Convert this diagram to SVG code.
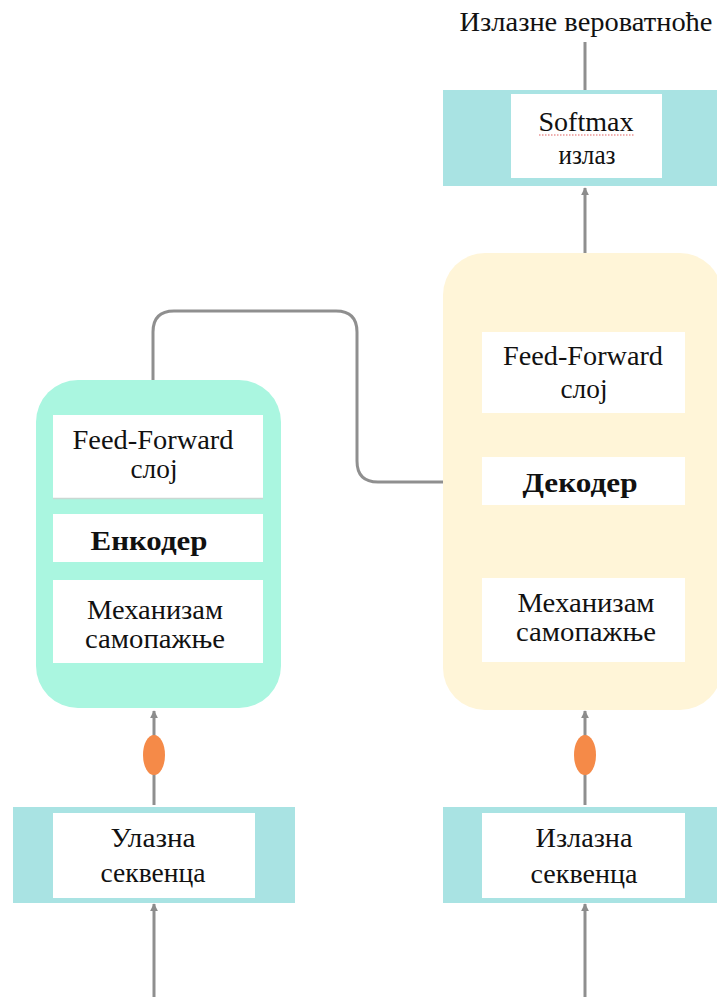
<svg xmlns="http://www.w3.org/2000/svg" width="717" height="997" viewBox="0 0 717 997">
  <defs>
    <marker id="arrow" viewBox="0 0 10 10" refX="9" refY="5" markerWidth="8" markerHeight="9" markerUnits="userSpaceOnUse" orient="auto">
      <path d="M0,0 L10,5 L0,10 Z" fill="#8c8c8c"/>
    </marker>
    <style>
      .lbl { font-family: "Liberation Serif", "Times New Roman", serif; font-size: 27px; fill: #111; text-anchor: middle; }
      .bold { font-weight: bold; }
      .box { fill: #ffffff; }
      .band { fill: #a9e3e3; }
      .wire { fill: none; stroke: #8f8f8f; stroke-width: 3; }
      .dot { fill: #f58a48; }
    </style>
  </defs>

  <rect width="717" height="997" fill="#ffffff"/>

  <!-- connectors -->
  <g id="connectors">
    <line class="wire" x1="585" y1="42" x2="585" y2="90"/>
    <line class="wire" x1="585" y1="253" x2="585" y2="188" marker-end="url(#arrow)"/>
    <path class="wire" d="M153,380 V332 Q153,311 174,311 H336 Q357,311 357,332 V461 Q357,482 378,482 H445"/>
    <line class="wire" x1="154" y1="805" x2="154" y2="711" marker-end="url(#arrow)"/>
    <line class="wire" x1="154" y1="997" x2="154" y2="904" marker-end="url(#arrow)"/>
    <line class="wire" x1="585" y1="805" x2="585" y2="711" marker-end="url(#arrow)"/>
    <line class="wire" x1="585" y1="997" x2="585" y2="904" marker-end="url(#arrow)"/>
    <ellipse class="dot" cx="154" cy="755" rx="11" ry="20"/>
    <ellipse class="dot" cx="585" cy="755" rx="11" ry="20"/>
  </g>

  <!-- output probabilities label -->
  <g id="title">
    <text class="lbl" x="586" y="31" textLength="253" lengthAdjust="spacingAndGlyphs">Излазне вероватноће</text>
  </g>

  <!-- softmax output -->
  <g id="softmax">
    <rect class="band" x="443" y="90" width="280" height="96"/>
    <rect class="box" x="511" y="94" width="151" height="84"/>
    <text class="lbl" x="586" y="131" textLength="95" lengthAdjust="spacingAndGlyphs">Softmax</text>
    <line x1="539" y1="135" x2="634" y2="135" stroke="#e06060" stroke-width="1.2" stroke-dasharray="1.5 1.5"/>
    <text class="lbl" x="587" y="164" textLength="57" lengthAdjust="spacingAndGlyphs">излаз</text>
  </g>

  <!-- encoder stack -->
  <g id="encoder">
    <rect x="36" y="380" width="245" height="328" rx="42" fill="#aaf6e0"/>
    <rect class="box" x="53" y="415" width="210" height="83"/>
    <line x1="53" y1="498.5" x2="263" y2="498.5" stroke="#c9d8d3" stroke-width="1.5"/>
    <text class="lbl" x="153" y="449" textLength="161" lengthAdjust="spacingAndGlyphs">Feed-Forward</text>
    <text class="lbl" x="154" y="478" textLength="47" lengthAdjust="spacingAndGlyphs">слој</text>
    <rect class="box" x="53" y="514" width="210" height="48"/>
    <text class="lbl bold" x="149" y="550" textLength="117" lengthAdjust="spacingAndGlyphs">Енкодер</text>
    <rect class="box" x="53" y="580" width="210" height="83"/>
    <text class="lbl" x="155" y="619" textLength="136" lengthAdjust="spacingAndGlyphs">Механизам</text>
    <text class="lbl" x="155" y="648" textLength="140" lengthAdjust="spacingAndGlyphs">самопажње</text>
  </g>

  <!-- decoder stack -->
  <g id="decoder">
    <rect x="443" y="253" width="279" height="457" rx="42" fill="#fff5d8"/>
    <rect class="box" x="482" y="332" width="203" height="81"/>
    <text class="lbl" x="583" y="365" textLength="160" lengthAdjust="spacingAndGlyphs">Feed-Forward</text>
    <text class="lbl" x="584" y="398" textLength="47" lengthAdjust="spacingAndGlyphs">слој</text>
    <rect class="box" x="482" y="457" width="203" height="48"/>
    <text class="lbl bold" x="580" y="492" textLength="115" lengthAdjust="spacingAndGlyphs">Декодер</text>
    <rect class="box" x="482" y="578" width="203" height="84"/>
    <text class="lbl" x="586" y="612" textLength="137" lengthAdjust="spacingAndGlyphs">Механизам</text>
    <text class="lbl" x="586" y="641" textLength="140" lengthAdjust="spacingAndGlyphs">самопажње</text>
  </g>

  <!-- encoder input -->
  <g id="input-seq">
    <rect class="band" x="13" y="807" width="282" height="96"/>
    <rect class="box" x="53" y="813" width="202" height="85"/>
    <text class="lbl" x="153" y="847" textLength="85" lengthAdjust="spacingAndGlyphs">Улазна</text>
    <text class="lbl" x="153" y="882" textLength="105" lengthAdjust="spacingAndGlyphs">секвенца</text>
  </g>

  <!-- decoder input -->
  <g id="output-seq">
    <rect class="band" x="443" y="807" width="280" height="96"/>
    <rect class="box" x="482" y="813" width="203" height="85"/>
    <text class="lbl" x="584" y="847" textLength="97" lengthAdjust="spacingAndGlyphs">Излазна</text>
    <text class="lbl" x="584" y="883" textLength="107" lengthAdjust="spacingAndGlyphs">секвенца</text>
  </g>
</svg>
